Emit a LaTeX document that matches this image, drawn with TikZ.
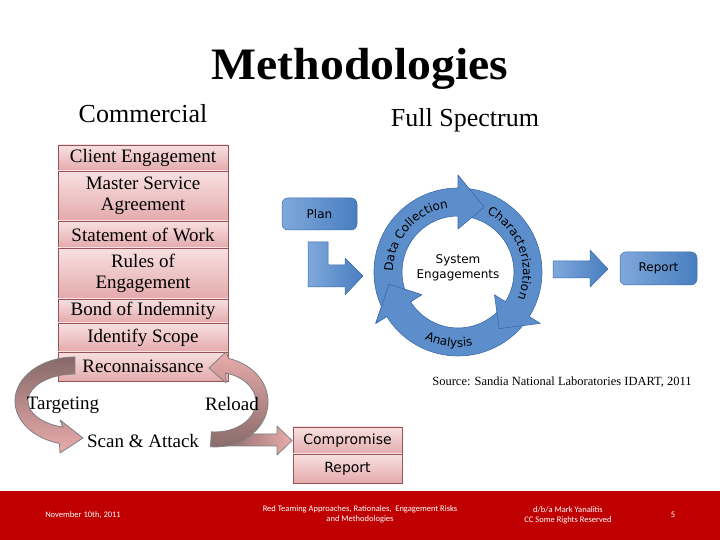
\documentclass[tikz,border=0pt]{standalone}
\usepackage{fontspec}
\setmainfont{Liberation Serif}
\newfontfamily\diagfont{DejaVu Sans}
\newfontfamily\footfont{Carlito}
\newcommand\ringfont{\diagfont\fontsize{12}{14}\selectfont}
\usepackage{xcolor}
\usepackage{tikz}
\usetikzlibrary{decorations.text}

\definecolor{boxtop}{RGB}{248,224,224}
\definecolor{boxbot}{RGB}{228,170,172}
\definecolor{boxedge}{RGB}{150,82,86}
\definecolor{loopdark}{RGB}{135,105,105}
\definecolor{looplight}{RGB}{234,172,172}
\definecolor{loopedge}{RGB}{128,128,128}
\definecolor{ringblue}{RGB}{93,142,204}
\definecolor{ringedge}{RGB}{58,106,170}
\definecolor{bluelight}{RGB}{128,168,220}
\definecolor{bluedark}{RGB}{72,126,192}
\definecolor{footred}{RGB}{192,0,0}

\begin{document}
\begin{tikzpicture}[
  x=1pt, y=1pt,
  stackbox/.style={
    draw=boxedge,
    top color=boxtop,
    bottom color=boxbot,
    line width=0.6pt,
    minimum width=170pt,
    inner sep=0pt,
    align=center,
    font=\fontsize{19}{21}\selectfont
  },
  tailbox/.style={
    draw=boxedge,
    top color=boxtop,
    bottom color=boxbot,
    line width=0.6pt,
    minimum width=109pt,
    inner sep=0pt,
    font=\diagfont\fontsize{14}{16}\selectfont
  },
  looplabel/.style={
    font=\fontsize{19}{21}\selectfont,
    inner sep=0pt
  },
  loopshape/.style={
    draw=loopedge,
    line width=0.8pt,
    line join=round
  },
  bluebox/.style={
    draw=ringedge,
    left color=bluelight,
    right color=bluedark,
    rounded corners=6pt,
    line width=0.5pt,
    font=\diagfont\fontsize{12}{14}\selectfont
  },
  bluearrow/.style={
    draw=ringedge,
    left color=bluelight,
    right color=bluedark,
    line width=0.5pt,
    line join=round
  },
  ringarrow/.style={
    fill=ringblue,
    draw=ringedge,
    line width=0.6pt,
    line join=round
  },
  ringtext/.style={
    decorate,
    decoration={
      text along path,
      text align=center,
      text={|\ringfont|#1}
    }
  },
  foottext/.style={
    text=white,
    align=center,
    font=\footfont\fontsize{8.5}{10}\selectfont
  }
]

\useasboundingbox (0,0) rectangle (720,540);
\fill[white] (0,0) rectangle (720,540);

% Title
\node[
  font=\bfseries\fontsize{45}{50}\selectfont,
  xscale=1.06, transform shape,
  anchor=base
] (title) at (360,460) {Methodologies};

\node[font=\fontsize{26}{29}\selectfont, anchor=base] (commercial) at (143,417) {Commercial};
\node[font=\fontsize{26}{29}\selectfont, anchor=base] (fullspec) at (465,413) {Full Spectrum};

% ---------------- Commercial stack ----------------
\node[stackbox, minimum height=26pt] (client) at (143,382) {Client Engagement};
\node[stackbox, minimum height=50pt] (msa) at (143,344) {Master Service\\Agreement};
\node[stackbox, minimum height=27pt] (sow) at (143,305.5) {Statement of Work};
\node[stackbox, minimum height=51pt] (roe) at (143,266.5) {Rules of\\Engagement};
\node[stackbox, minimum height=24pt] (bond) at (143,229) {Bond of Indemnity};
\node[stackbox, minimum height=29pt] (scope) at (143,202.5) {Identify Scope};
\node[stackbox, minimum height=29pt] (recon) at (143,173.5) {Reconnaissance};

% ---------------- Attack loop ----------------
% straight arrow to compromise
\draw[loopshape, left color=loopdark, right color=looplight]
  (222,94) -- (277,94) -- (277,85) -- (292,99.5) -- (277,114) -- (277,106) -- (222,106) -- cycle;

% targeting (left)
\draw[loopshape, top color=loopdark, bottom color=looplight]
  (75,183) arc[start angle=90, end angle=255, x radius=60, y radius=44]
  -- (60,87) -- (83,102) -- (60,120)
  -- (62.8,112.9) arc[start angle=255, end angle=90, x radius=47, y radius=27]
  -- cycle;

% reload (right)
\draw[loopshape, top color=looplight, bottom color=loopdark]
  (210.4,93.2) arc[start angle=-95, end angle=75, x radius=53, y radius=45]
  -- (226,188) -- (209,172) -- (226,157)
  -- (225.6,167) arc[start angle=75, end angle=-95, x radius=41, y radius=30]
  -- cycle;

\node[looplabel] (targeting) at (63,135) {Targeting};
\node[looplabel] (reload) at (232,136) {Reload};
\node[looplabel] (scan) at (143,99) {Scan \& Attack};

\node[tailbox, minimum height=27pt] (compromise) at (347.5,99.5) {Compromise};
\node[tailbox, minimum height=29pt] (report) at (347.5,71.5) {Report};

% ---------------- Full spectrum ----------------
\node[bluebox, minimum width=75pt, minimum height=32pt] (plan) at (319.5,326) {Plan};

\draw[bluearrow]
  (308,298) -- (328,298) -- (328,275) -- (345,275) -- (345,282) -- (363,264)
  -- (345,245) -- (345,253) -- (308,253) -- cycle;

\begin{scope}[shift={(458,268)}]
  % analysis
  \draw[ringarrow] (-34:84) arc[start angle=-34, end angle=-148, radius=84]
    -- (-148:97) -- (-170:70) -- (-148:43)
    -- (-148:56) arc[start angle=-148, end angle=-34, radius=56] -- cycle;
  % characterization
  \draw[ringarrow] (88:84) arc[start angle=88, end angle=-32, radius=84]
    -- (-32:97) -- (-54:70) -- (-32:43)
    -- (-32:56) arc[start angle=-32, end angle=88, radius=56] -- cycle;
  % data collection
  \draw[ringarrow] (210:84) arc[start angle=210, end angle=90, radius=84]
    -- (90:97) -- (68:70) -- (90:43)
    -- (90:56) arc[start angle=90, end angle=210, radius=56] -- cycle;
  % analysis head over the data collection tail
  \fill[ringblue] (-148:97) -- (-170:70) -- (-148:43) -- cycle;
  \draw[ringedge, line width=0.6pt, line join=round]
    (-148:84) -- (-148:97) -- (-170:70) -- (-148:43) -- (-148:56);

  \path[ringtext={Data Collection}] (190:65) arc[start angle=190, end angle=88, radius=65];
  \path[ringtext={Characterization}] (72:65) arc[start angle=72, end angle=-32, radius=65];
  \path[ringtext={Analysis}] (240:75) arc[start angle=240, end angle=285, radius=75];

  \node[font=\diagfont\fontsize{12}{15}\selectfont, align=center] (engage) at (0,4) {System\\Engagements};
\end{scope}

\draw[bluearrow]
  (553,262) -- (590,262) -- (590,253) -- (608,271) -- (590,290) -- (590,279) -- (553,279) -- cycle;

\node[bluebox, minimum width=77pt, minimum height=33pt] (fsreport) at (658.5,271.5) {Report};

\node[font=\fontsize{12.5}{14}\selectfont] (source) at (562,158) {Source: Sandia National Laboratories IDART, 2011};

% Footer
\fill[footred] (0,0) rectangle (720,49);
\node[foottext] (fdate) at (83,25) {November 10th, 2011};
\node[foottext] (ftitle) at (360,26) {Red Teaming Approaches, Rationales,\ \ Engagement Risks\\and Methodologies};
\node[foottext] (fauthor) at (568,25) {d/b/a Mark Yanalitis\\CC Some Rights Reserved};
\node[foottext] (fpage) at (673,25) {5};

\end{tikzpicture}
\end{document}
